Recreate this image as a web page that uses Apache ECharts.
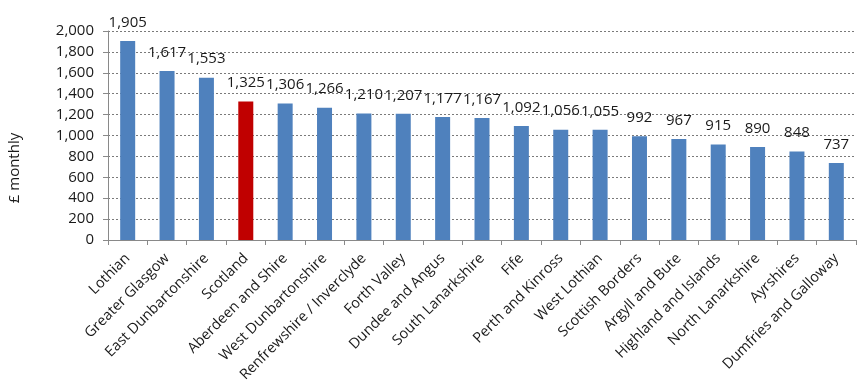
<!DOCTYPE html>
<html>
<head>
<meta charset="utf-8">
<script src="https://cdn.jsdelivr.net/npm/echarts@6/dist/echarts.min.js"></script>
<style>html,body{margin:0;padding:0;background:#fff}#c{width:864px;height:385px}</style>
</head>
<body>
<div id="c"></div>
<script>
var categories = ["Lothian","Greater Glasgow","East Dunbartonshire","Scotland","Aberdeen and Shire","West Dunbartonshire","Renfrewshire / Inverclyde","Forth Valley","Dundee and Angus","South Lanarkshire","Fife","Perth and Kinross","West Lothian","Scottish Borders","Argyll and Bute","Highland and Islands","North Lanarkshire","Ayrshires","Dumfries and Galloway"];
var values = [1905,1617,1553,1325,1306,1266,1210,1207,1177,1167,1092,1056,1055,992,967,915,890,848,737];
var highlight = "Scotland";
var yTicks = [0,200,400,600,800,1000,1200,1400,1600,1800,2000];

var FONT = "Open Sans";
function fmt(v){ return v.toLocaleString('en-GB'); }

var chart = echarts.init(document.getElementById('c'), null, {renderer:'canvas'});
chart.setOption({
  animation:false,
  grid:{left:108,right:8,top:31,bottom:145,containLabel:false},
  xAxis:{
    type:'category',
    data:categories,
    axisLine:{lineStyle:{color:'#898989'}},
    axisTick:{show:true,length:5,lineStyle:{color:'#898989'}},
    axisLabel:{rotate:45,interval:0,margin:16,fontFamily:FONT,fontSize:14.5,color:'#1a1a1a'}
  },
  yAxis:{
    type:'value',
    min:yTicks[0],max:yTicks[yTicks.length-1],interval:200,
    axisLine:{show:true,lineStyle:{color:'#898989'}},
    axisTick:{show:true,length:5,lineStyle:{color:'#898989'}},
    axisLabel:{margin:14,fontFamily:FONT,fontSize:15,color:'#1a1a1a',formatter:function(v){return fmt(v);}},
    splitLine:{show:true,lineStyle:{color:'#7a7a7a',type:[2,2],width:1}}
  },
  graphic:[{type:'text',x:15,y:168,rotation:Math.PI/2,style:{text:'£ monthly',font:'15px "Open Sans"',fill:'#1a1a1a',align:'center',verticalAlign:'middle'}}],
  series:[{
    type:'bar',
    barWidth:15,
    data:values.map(function(v,i){
      return {value:v,itemStyle:{color:categories[i]===highlight?'#C00000':'#4F81BD'}};
    }),
    label:{show:true,position:'top',distance:11,fontFamily:FONT,fontSize:15,color:'#1a1a1a',formatter:function(p){return fmt(p.value);}}
  }]
});
</script>
</body>
</html>
